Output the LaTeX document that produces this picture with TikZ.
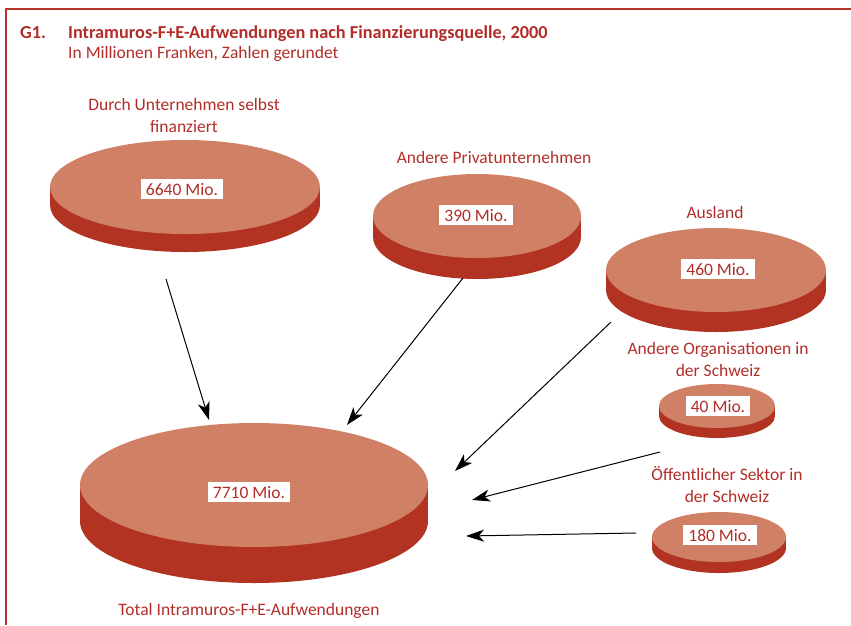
\documentclass[tikz,border=0pt]{standalone}
\usepackage{fontspec}
\setmainfont{Carlito}
\usepackage{tikz}
\usetikzlibrary{arrows.meta}

\definecolor{textred}{RGB}{178,45,40}
\definecolor{topred}{RGB}{208,128,101}
\definecolor{sidered}{RGB}{178,51,34}
\definecolor{framered}{RGB}{185,50,40}

% one disk: centre x, centre y, x radius, y radius, thickness
\newcommand{\drawdisk}[5]{%
  \fill[sidered] (#1,#2+#5) ellipse [x radius=#3, y radius=#4];
  \fill[sidered] (#1-#3,#2) rectangle (#1+#3,#2+#5);
  \fill[topred] (#1,#2) ellipse [x radius=#3, y radius=#4];
}

\begin{document}
\begin{tikzpicture}[x=1pt, y=-1pt,
    label/.style={text=textred, inner sep=0pt, align=center, font=\fontsize{17.5}{22}\selectfont},
    valbox/.style={fill=white, text=textred, inner xsep=5pt, inner ysep=4pt, text height=12pt, text depth=0pt, font=\fontsize{17.5}{22}\selectfont},
    flow/.style={black, line width=1pt, -{Stealth[length=18pt, width=12pt, inset=5pt]}}]
        \useasboundingbox (0,0) rectangle (851,625);

        %---------------- Frame and title ----------------%
        \draw[framered, line width=2pt] (6,625) -- (6,8.5) -- (851,8.5);
        \node[text=textred, font=\fontsize{18.3}{22}\selectfont\bfseries, anchor=base west, inner sep=0pt] (g1) at (20,38) {G1.};
        \node[text=textred, font=\fontsize{18.3}{22}\selectfont\bfseries, anchor=base west, inner sep=0pt] (title) at (68,38) {Intramuros-F+E-Aufwendungen nach Finanzierungsquelle, 2000};
        \node[text=textred, font=\fontsize{17.5}{22}\selectfont, anchor=base west, inner sep=0pt] (subtitle) at (68,58) {In Millionen Franken, Zahlen gerundet};

        %---------------- Disks ----------------%
        \drawdisk{185}{187}{135}{47}{18}
        \drawdisk{477}{216}{104}{42}{21}
        \drawdisk{716}{270}{110}{42}{20}
        \drawdisk{717}{406}{58}{22}{10}
        \drawdisk{719}{537}{67}{25}{11}
        \drawdisk{254}{485}{174}{62}{36}

        %---------------- Values ----------------%
        \node[valbox] (v6640) at (182,189) {6640 Mio.};
        \node[valbox] (v390) at (476,215) {390 Mio.};
        \node[valbox] (v460) at (718,269) {460 Mio.};
        \node[valbox] (v40) at (718,406) {40 Mio.};
        \node[valbox] (v180) at (720,535) {180 Mio.};
        \node[valbox] (v7710) at (249,492) {7710 Mio.};

        %---------------- Labels (base = last line) ----------------%
        \node[label, anchor=base] (lunt) at (184,132) {Durch Unternehmen selbst\\finanziert};
        \node[label, anchor=base] (lpriv) at (494,163) {Andere Privatunternehmen};
        \node[label, anchor=base] (laus) at (715,218) {Ausland};
        \node[label, anchor=base] (lorg) at (718,376) {Andere Organisationen in\\der Schweiz};
        \node[label, anchor=base] (loef) at (727,502) {Öffentlicher Sektor in\\der Schweiz};
        \node[label, anchor=base] (ltot) at (249,615) {Total Intramuros-F+E-Aufwendungen};

        %---------------- Arrows ----------------%
        \coordinate (s1) at (166,279);  \coordinate (e1) at (209,420);
        \coordinate (s2) at (463,278);  \coordinate (e2) at (347,425);
        \coordinate (s3) at (611,322);  \coordinate (e3) at (455,471);
        \coordinate (s4) at (660,452);  \coordinate (e4) at (472,500);
        \coordinate (s5) at (636,533);  \coordinate (e5) at (466,536);
        \draw[flow] (s1) -- (e1);
        \draw[flow] (s2) -- (e2);
        \draw[flow] (s3) -- (e3);
        \draw[flow] (s4) -- (e4);
        \draw[flow] (s5) -- (e5);
\end{tikzpicture}
\end{document}
